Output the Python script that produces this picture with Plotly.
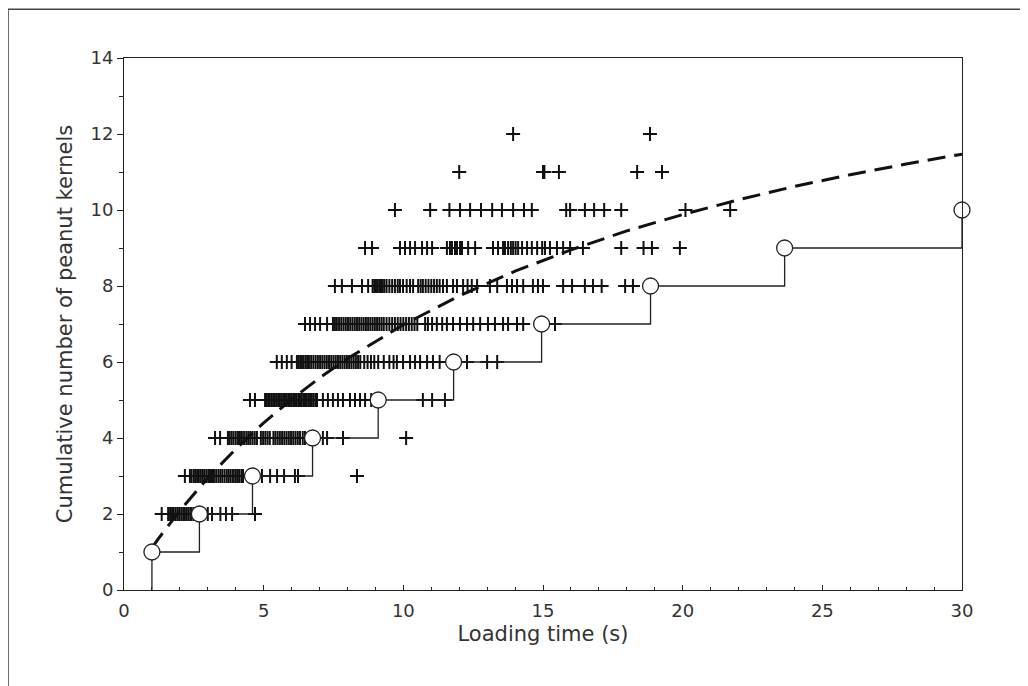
import plotly.graph_objects as go

# ---- data ----
row2 = [1.35, 1.58, 1.65, 1.72, 1.78, 1.85, 1.92, 1.98, 2.05, 2.12, 2.18, 2.25, 2.32, 2.4, 2.48,
        2.55, 2.62, 2.72, 2.85, 3.0, 3.15, 3.45, 3.65, 3.87, 4.69]
row3 = [2.18, 2.36, 2.42, 2.5, 2.56, 2.62, 2.68, 2.75, 2.82, 2.88, 2.95, 3.02, 3.08, 3.15, 3.22,
        3.3, 3.38, 3.45, 3.52, 3.6, 3.68, 3.75, 3.82, 3.9, 3.98, 4.05, 4.12, 4.2, 4.26, 4.6,
        4.94, 5.23, 5.48, 5.73, 6.12, 6.23, 8.34]
row4 = [3.26, 3.44, 3.72, 3.78, 3.85, 3.92, 4.0, 4.08, 4.15, 4.22, 4.3, 4.38, 4.45, 4.52, 4.6,
        4.68, 4.76, 4.9, 4.98, 5.06, 5.14, 5.22, 5.35, 5.42, 5.5, 5.58, 5.66, 5.74, 5.82, 5.9,
        5.98, 6.06, 6.14, 6.22, 6.3, 6.4, 6.48, 6.9, 7.12, 7.27, 7.84, 10.1]
row5 = [4.51, 4.69, 5.05, 5.1, 5.16, 5.22, 5.28, 5.34, 5.4, 5.46, 5.52, 5.58, 5.64, 5.7, 5.76,
        5.82, 5.88, 5.94, 6.0, 6.06, 6.12, 6.18, 6.24, 6.3, 6.36, 6.42, 6.48, 6.54, 6.6, 6.66,
        6.72, 6.78, 6.85, 6.91, 7.12, 7.3, 7.48, 7.66, 7.84, 8.09, 8.27, 8.45, 8.63, 8.85,
        10.7, 11.03, 11.49]
row6 = [5.47, 5.65, 5.83, 6.0, 6.19, 6.25, 6.31, 6.37, 6.43, 6.5, 6.56, 6.62, 6.7, 6.78, 6.86,
        6.94, 7.02, 7.1, 7.18, 7.26, 7.34, 7.42, 7.5, 7.58, 7.66, 7.74, 7.82, 7.9, 7.98, 8.06,
        8.14, 8.22, 8.3, 8.38, 8.46, 8.6, 8.72, 8.84, 8.96, 9.1, 9.3, 9.5, 9.65, 9.77, 9.99,
        10.24, 10.42, 10.6, 10.85, 11.06, 11.3, 12.28, 13.0, 13.36]
row7 = [6.48, 6.66, 6.84, 7.02, 7.27, 7.48, 7.55, 7.62, 7.7, 7.78, 7.86, 7.94, 8.02, 8.1, 8.18,
        8.26, 8.34, 8.42, 8.5, 8.58, 8.66, 8.74, 8.82, 8.9, 8.98, 9.06, 9.14, 9.22, 9.3, 9.4,
        9.5, 9.6, 9.7, 9.8, 9.9, 10.0, 10.1, 10.2, 10.3, 10.4, 10.5, 10.78, 10.88, 11.03,
        11.2, 11.39, 11.56, 11.78, 12.03, 12.28, 12.5, 12.75, 13.03, 13.28, 13.57, 13.75,
        14.07, 14.29, 15.43]
row8 = [7.55, 7.8, 8.16, 8.52, 8.74, 8.9, 8.96, 9.02, 9.08, 9.14, 9.2, 9.26, 9.32, 9.4, 9.5,
        9.6, 9.7, 9.8, 9.88, 9.99, 10.12, 10.24, 10.35, 10.53, 10.62, 10.7, 10.8, 10.9, 11.0,
        11.1, 11.2, 11.3, 11.42, 11.56, 11.78, 11.92, 12.14, 12.3, 12.45, 12.64, 13.1, 13.36,
        13.71, 13.89, 14.07, 14.29, 14.64, 14.82, 15.0, 15.72, 16.04, 16.5, 16.79, 17.1,
        17.94, 18.22]
row9 = [8.63, 8.88, 9.88, 10.06, 10.24, 10.42, 10.67, 10.85, 11.03, 11.56, 11.67, 11.74, 11.85,
        11.92, 12.03, 12.1, 12.32, 12.57, 13.21, 13.39, 13.57, 13.64, 13.75, 13.85, 13.93,
        14.02, 14.11, 14.25, 14.43, 14.6, 14.79, 14.97, 15.07, 15.25, 15.5, 15.72, 15.97,
        16.43, 17.8, 18.6, 18.9, 19.9]
row10 = [9.7, 10.96, 11.65, 12.03, 12.39, 12.78, 13.18, 13.53, 13.93, 14.32, 14.6, 15.83, 15.97,
         16.5, 16.83, 17.19, 17.8, 20.1, 21.7]
row11 = [12.0, 15.0, 15.05, 15.57, 18.37, 19.26]
row12 = [13.93, 18.83]
rows = {2: row2, 3: row3, 4: row4, 5: row5, 6: row6, 7: row7, 8: row8, 9: row9,
        10: row10, 11: row11, 12: row12}

step_x = [1.0, 2.7, 4.6, 6.75, 9.1, 11.8, 14.95, 18.85, 23.65, 30.0]
step_y = [1, 2, 3, 4, 5, 6, 7, 8, 9, 10]

curve_x = [1.0, 1.2, 2, 3, 4, 5, 6, 7, 8, 10, 12, 14, 16, 18, 20, 22, 24, 26, 28, 30]
curve_y = [1.11, 1.32, 2.09, 2.95, 3.71, 4.40, 5.02, 5.58, 6.09, 6.98, 7.74, 8.39, 8.95,
           9.45, 9.88, 10.27, 10.62, 10.93, 11.21, 11.47]

x_ticks = [0, 5, 10, 15, 20, 25, 30]
y_ticks = [0, 2, 4, 6, 8, 10, 12, 14]

# ---- figure ----
obs_x, obs_y = [], []
for level, xs in rows.items():
    obs_x += xs
    obs_y += [level] * len(xs)

fig = go.Figure()
fig.add_trace(go.Scatter(
    x=obs_x, y=obs_y, mode="markers",
    marker=dict(symbol="cross-thin", size=10, line=dict(width=2, color="#111")),
    showlegend=False))
fig.add_trace(go.Scatter(
    x=[step_x[0]] + step_x, y=[0] + step_y, mode="lines",
    line=dict(shape="hv", color="#222", width=1.3), showlegend=False))
fig.add_trace(go.Scatter(
    x=curve_x, y=curve_y, mode="lines",
    line=dict(color="#111", width=3, dash="18px,9px"), showlegend=False))
fig.add_trace(go.Scatter(
    x=step_x, y=step_y, mode="markers", cliponaxis=False,
    marker=dict(symbol="circle", size=16, color="white", line=dict(width=1.3, color="#222")),
    showlegend=False))

font_family = "DejaVu Sans, Verdana, sans-serif"
fig.update_layout(
    width=1028, height=686,
    margin=dict(l=116, r=74, t=50, b=104),
    paper_bgcolor="white", plot_bgcolor="white",
    font=dict(family=font_family, size=16, color="#333"),
    xaxis=dict(
        range=[0, 30], tickvals=x_ticks, showgrid=False, zeroline=False,
        showline=True, linecolor="#222", linewidth=1, mirror=True,
        ticks="inside", ticklen=5, tickcolor="#222", ticklabelstandoff=4,
        minor=dict(dtick=1, ticks="inside", ticklen=3, tickcolor="#222"),
        title=dict(text="Loading time (s)", font=dict(size=21), standoff=6),
        tickfont=dict(size=18)),
    yaxis=dict(
        range=[0, 14], tickvals=y_ticks, showgrid=False, zeroline=False,
        showline=True, linecolor="#222", linewidth=1, mirror=True,
        ticks="outside", ticklen=6, tickcolor="#222",
        minor=dict(dtick=1, ticks="outside", ticklen=4, tickcolor="#222"),
        title=dict(text="Cumulative number of peanut kernels", font=dict(size=21), standoff=12),
        tickfont=dict(size=18)),
    shapes=[dict(type="rect", xref="paper", yref="paper",
                 x0=-0.1384, x1=1.09, y0=-0.2, y1=1.0915,
                 line=dict(color="#444", width=1.5), fillcolor="rgba(0,0,0,0)", layer="below")],
)

fig.write_html("out.html")
